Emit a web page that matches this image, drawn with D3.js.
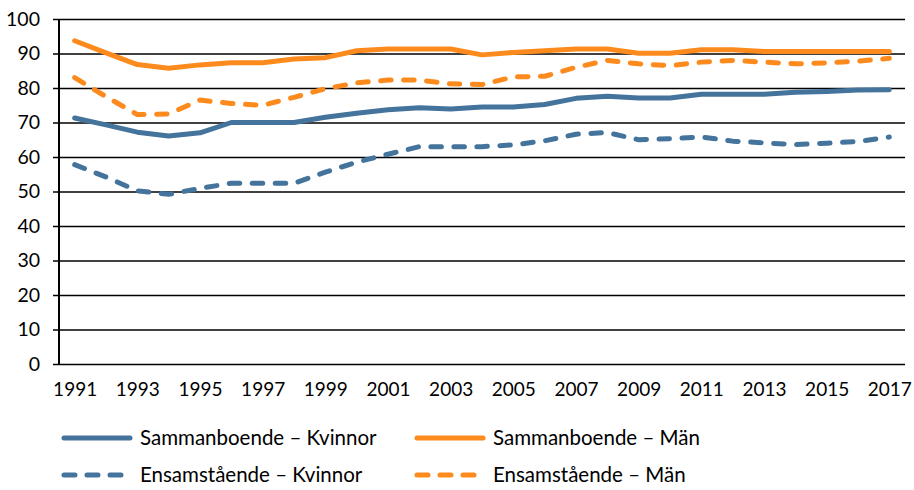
<!DOCTYPE html>
<html>
<head>
<meta charset="utf-8">
<script src="https://cdn.jsdelivr.net/npm/d3@7"></script>
<style>
  body { margin: 0; background: #fff; }
  svg { display: block; font-family: Lato, "Liberation Sans", sans-serif; }
</style>
</head>
<body>
<svg id="chart" width="914" height="490"></svg>
<script>
var years = d3.range(1991, 2018);

// andel (%) per år
var samKvinnor = [71.3, 69.3, 67.2, 66.1, 67.0, 70.0, 70.0, 70.0, 71.5, 72.7, 73.7, 74.3, 73.9, 74.5,
  74.5, 75.2, 77.0, 77.6, 77.1, 77.1, 78.2, 78.2, 78.2, 78.8, 79.0, 79.4, 79.5];
var samMan = [93.7, 90.2, 86.8, 85.7, 86.7, 87.3, 87.3, 88.4, 88.8, 90.8, 91.3, 91.3, 91.3, 89.6,
  90.3, 90.8, 91.3, 91.3, 90.1, 90.1, 91.1, 91.1, 90.6, 90.6, 90.6, 90.6, 90.6];
var ensKvinnor = [57.8, 54.2, 50.2, 49.2, 50.9, 52.4, 52.4, 52.4, 55.6, 58.5, 60.8, 63.0, 63.0, 63.0,
  63.5, 64.7, 66.6, 67.1, 65.0, 65.3, 65.8, 64.6, 64.1, 63.6, 64.0, 64.5, 65.8];
var ensMan = [83.0, 77.5, 72.3, 72.5, 76.5, 75.5, 75.0, 77.3, 79.8, 81.5, 82.3, 82.3, 81.2, 81.0,
  83.2, 83.4, 86.0, 88.0, 87.0, 86.5, 87.5, 88.0, 87.5, 87.0, 87.3, 87.8, 88.6];

var yTicks = d3.range(0, 101, 10);
var xTicks = years.filter(function(y) { return y % 2 === 1; });

var blue = "#44739b",
  orange = "#fd8a1d";

var series = [
  { name: "Sammanboende – Kvinnor", values: samKvinnor, color: blue, dash: null },
  { name: "Sammanboende – Män", values: samMan, color: orange, dash: null },
  { name: "Ensamstående – Kvinnor", values: ensKvinnor, color: blue, dash: "10.5,12.5" },
  { name: "Ensamstående – Män", values: ensMan, color: orange, dash: "10.5,12.5" }
];

var svg = d3.select("#chart");

var plotL = 59, plotR = 905, plotT = 19, plotB = 364;

var x = d3.scalePoint()
  .domain(years)
  .range([plotL, plotR])
  .padding(0.5);

var y = d3.scaleLinear()
  .domain([0, 100])
  .range([plotB, plotT]);

// gridlines + y labels
var yAxis = svg.append("g")
  .attr("transform", "translate(" + plotR + ",0)")
  .call(d3.axisLeft(y).tickValues(yTicks).tickSize(plotR - 53).tickPadding(13));
yAxis.select(".domain").remove();
yAxis.selectAll("line").attr("stroke", "#000").attr("stroke-width", 1.7);
yAxis.selectAll("text")
  .attr("fill", "#000")
  .style("font-size", "19.5px")
  .style("font-family", "Lato, sans-serif");

// y axis line
svg.append("line")
  .attr("x1", plotL).attr("x2", plotL)
  .attr("y1", y(100)).attr("y2", y(0))
  .attr("stroke", "#000")
  .attr("stroke-width", 2);

var xAxis = svg.append("g")
  .attr("transform", "translate(0," + plotB + ")")
  .call(d3.axisBottom(x).tickValues(xTicks).tickSize(0).tickPadding(19));
xAxis.select(".domain").remove();
xAxis.selectAll("text")
  .attr("fill", "#000")
  .style("font-size", "19px")
  .style("font-family", "Lato, sans-serif");

var line = d3.line()
  .x(function(d, i) { return x(years[i]); })
  .y(function(d) { return y(d); });

svg.selectAll(".serie")
  .data(series)
  .enter().append("path")
  .attr("class", "serie")
  .attr("d", function(d) { return line(d.values); })
  .attr("fill", "none")
  .attr("stroke", function(d) { return d.color; })
  .attr("stroke-width", 5)
  .attr("stroke-linejoin", "round")
  .attr("stroke-linecap", "round")
  .attr("stroke-dasharray", function(d) { return d.dash; });

// legend
var legendPos = [[62, 438], [415, 438], [62, 475], [415, 475]];

var legend = svg.selectAll(".legend")
  .data(series)
  .enter().append("g")
  .attr("class", "legend")
  .attr("transform", function(d, i) {
    return "translate(" + legendPos[i][0] + "," + legendPos[i][1] + ")";
  });

legend.append("line")
  .attr("x1", 2).attr("x2", 68)
  .attr("y1", 0).attr("y2", 0)
  .attr("stroke", function(d) { return d.color; })
  .attr("stroke-width", 5)
  .attr("stroke-linecap", "round")
  .attr("stroke-dasharray", function(d) { return d.dash ? "11,12" : null; });

legend.append("text")
  .attr("x", 78)
  .attr("y", 7)
  .style("font-size", "20.5px")
  .text(function(d) { return d.name; });
</script>
</body>
</html>
